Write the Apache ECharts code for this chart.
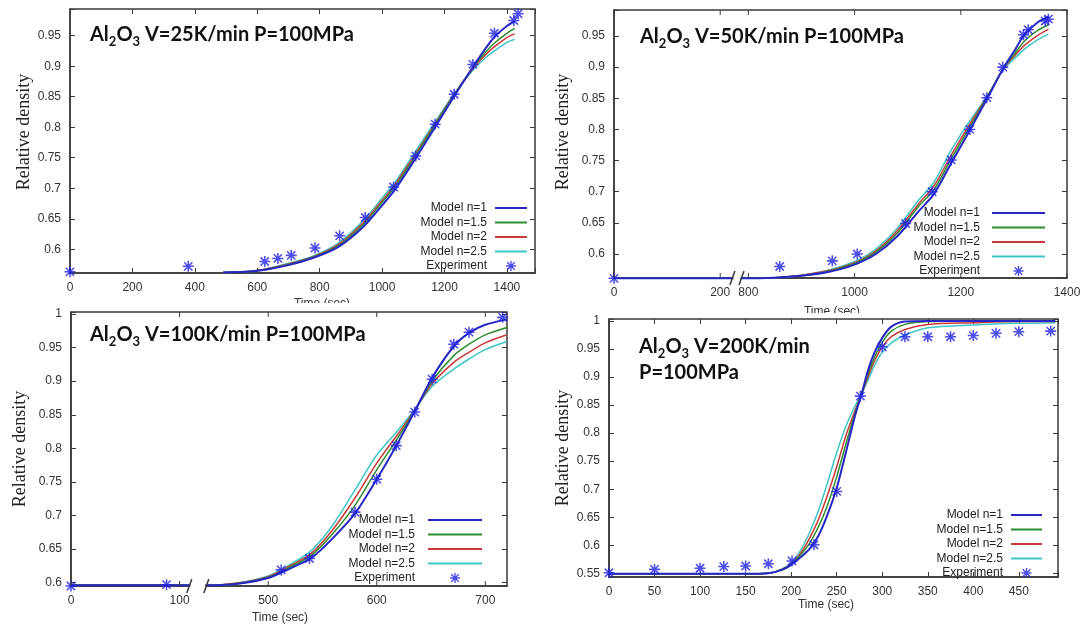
<!DOCTYPE html>
<html><head><meta charset="utf-8">
<script src="https://cdn.jsdelivr.net/npm/echarts@6/dist/echarts.min.js"></script>
<style>html,body{margin:0;padding:0;background:#fff}#c{width:1083px;height:627px}</style>
</head><body><div id="c"></div>
<script>
// ---------- DATA ----------
const seriesNames = ['Model n=1', 'Model n=1.5', 'Model n=2', 'Model n=2.5', 'Experiment'];

// Panel 1: V=25K/min
const p1Time = [490, 560, 620, 700, 780, 860, 940, 1000, 1040, 1100, 1170, 1230, 1290, 1330, 1360, 1400, 1425];
const p1N1   = [0.562,0.563,0.566,0.574,0.586,0.604,0.637,0.672,0.697,0.743,0.800,0.850,0.898,0.928,0.948,0.966,0.974];
const p1N15  = [0.562,0.563,0.566,0.575,0.587,0.606,0.641,0.677,0.702,0.748,0.804,0.852,0.897,0.922,0.938,0.954,0.962];
const p1N2   = [0.562,0.563,0.567,0.576,0.588,0.608,0.644,0.680,0.705,0.751,0.806,0.853,0.895,0.918,0.932,0.947,0.953];
const p1N25  = [0.562,0.563,0.567,0.577,0.589,0.610,0.647,0.684,0.709,0.755,0.809,0.854,0.893,0.913,0.925,0.939,0.944];
const p1ExpTime = [0, 379, 624, 666, 709, 785, 864, 946, 1037, 1108, 1170, 1231, 1291, 1360, 1422, 1436];
const p1ExpDens = [0.563,0.572,0.580,0.585,0.590,0.602,0.622,0.652,0.702,0.753,0.805,0.854,0.903,0.954,0.975,0.986];
const p1TickLabels = [0, 200, 400, 600, 800, 1000, 1200, 1400];

// Panel 2: V=50K/min
const p2Time = [0, 223, 787, 850, 900, 950, 1000, 1040, 1080, 1120, 1150, 1180, 1210, 1250, 1280, 1300, 1320, 1345, 1365];
const p2N1   = [0.561,0.561,0.561,0.562,0.565,0.571,0.583,0.600,0.628,0.668,0.697,0.743,0.788,0.850,0.898,0.925,0.952,0.972,0.981];
const p2N15  = [0.561,0.561,0.561,0.562,0.565,0.572,0.585,0.603,0.633,0.676,0.704,0.750,0.794,0.852,0.898,0.920,0.942,0.959,0.968];
const p2N2   = [0.561,0.561,0.561,0.562,0.566,0.573,0.586,0.605,0.637,0.680,0.710,0.756,0.799,0.853,0.897,0.917,0.935,0.951,0.961];
const p2N25  = [0.561,0.561,0.561,0.562,0.566,0.574,0.588,0.608,0.641,0.686,0.716,0.764,0.805,0.854,0.896,0.913,0.929,0.944,0.953];
const p2ExpTime = [0, 859, 958, 1005, 1096, 1146, 1182, 1217, 1249, 1279, 1318, 1327, 1359, 1365];
const p2ExpDens = [0.561,0.580,0.589,0.600,0.649,0.700,0.751,0.800,0.851,0.900,0.952,0.960,0.974,0.977];
const p2TickLabels = [0, 200, 800, 1000, 1200, 1400];

// Panel 3: V=100K/min
const p3Time = [0, 109, 443, 470, 500, 520, 540, 560, 580, 600, 618, 635, 651, 671, 685, 700, 720];
const p3N1   = [0.596,0.596,0.596,0.598,0.607,0.621,0.637,0.667,0.703,0.754,0.804,0.855,0.905,0.952,0.972,0.984,0.992];
const p3N15  = [0.596,0.596,0.596,0.598,0.608,0.623,0.641,0.674,0.715,0.768,0.812,0.856,0.900,0.938,0.955,0.969,0.980];
const p3N2   = [0.596,0.596,0.596,0.599,0.609,0.625,0.644,0.680,0.726,0.778,0.818,0.857,0.896,0.928,0.943,0.957,0.969];
const p3N25  = [0.596,0.596,0.596,0.599,0.610,0.627,0.648,0.687,0.738,0.790,0.824,0.858,0.892,0.918,0.933,0.947,0.959];
const p3ExpTime = [0, 88, 512, 538, 580, 600, 618, 635, 651, 671, 685, 716];
const p3ExpDens = [0.595,0.597,0.619,0.636,0.705,0.754,0.804,0.854,0.903,0.955,0.973,0.995];
const p3TickLabels = [0, 100, 500, 600, 700];

// Panel 4: V=200K/min
const p4Time = [0, 150, 175, 190, 200, 210, 220, 230, 240, 250, 260, 270, 277, 285, 292, 300, 310, 325, 350, 400, 450, 490];
const p4N1   = [0.549,0.549,0.550,0.556,0.565,0.578,0.593,0.617,0.655,0.702,0.765,0.830,0.868,0.915,0.946,0.970,0.990,0.999,1.000,1.000,1.000,1.000];
const p4N15  = [0.549,0.549,0.550,0.557,0.566,0.582,0.603,0.633,0.672,0.722,0.780,0.835,0.868,0.908,0.937,0.962,0.982,0.994,0.999,1.000,1.000,1.000];
const p4N2   = [0.549,0.549,0.550,0.557,0.567,0.585,0.612,0.646,0.690,0.740,0.795,0.840,0.868,0.903,0.930,0.954,0.972,0.985,0.994,0.997,0.999,0.999];
const p4N25  = [0.549,0.549,0.550,0.558,0.568,0.590,0.622,0.662,0.712,0.765,0.812,0.848,0.869,0.897,0.922,0.944,0.961,0.975,0.988,0.993,0.996,0.997];
const p4ExpTime = [0, 50, 100, 126, 150, 175, 201, 225, 250, 276, 300, 325, 350, 375, 400, 425, 450, 485];
const p4ExpDens = [0.551,0.557,0.559,0.562,0.563,0.567,0.572,0.601,0.696,0.866,0.954,0.972,0.972,0.972,0.974,0.978,0.981,0.982];
const p4TickLabels = [0, 50, 100, 150, 200, 250, 300, 350, 400, 450];

const titleLines = [
  ['V=25K/min P=100MPa'],
  ['V=50K/min P=100MPa'],
  ['V=100K/min P=100MPa'],
  ['V=200K/min', 'P=100MPa']
];

// ---------- LAYOUT ----------
const panels = [
  {t: p1Time, m: [p1N1, p1N15, p1N2, p1N25], et: p1ExpTime, ed: p1ExpDens, ticks: p1TickLabels},
  {t: p2Time, m: [p2N1, p2N15, p2N2, p2N25], et: p2ExpTime, ed: p2ExpDens, ticks: p2TickLabels},
  {t: p3Time, m: [p3N1, p3N15, p3N2, p3N25], et: p3ExpTime, ed: p3ExpDens, ticks: p3TickLabels},
  {t: p4Time, m: [p4N1, p4N15, p4N2, p4N25], et: p4ExpTime, ed: p4ExpDens, ticks: p4TickLabels}
];
const layout = [
  {grid:{left:70, top:9, width:465, height:264}, x:{min:0, max:1490, interval:200}, y:{min:0.5611, max:0.9938, step:0.05},
   xName:{gap:25, pad:[0,0,0,39]}, yName:{gap:37, pad:[0,0,0,18]},
   leg:{right:556, top:201, w:32, tp:3}, title:{left:90, top:22}},
  {grid:{left:614, top:10, width:453, height:268}, x:{min:0, max:1400, interval:200}, y:{min:0.5615, max:0.9917, step:0.05},
   brk:{start:223, end:787, gap:'2%'},
   xName:{gap:28, pad:[0,17,0,0]}, yName:{gap:42, pad:[0,0,0,24]},
   leg:{right:38, top:206, w:53, tp:7}, title:{left:640, top:24}},
  {grid:{left:71, top:312, width:436, height:274}, x:{min:0, max:720, interval:100}, y:{min:0.595, max:1.003, step:0.05},
   brk:{start:109, end:443, gap:'3.9%'},
   xName:{gap:26, pad:[0,18,0,0]}, yName:{gap:42, pad:[0,0,0,0]},
   leg:{right:601, top:513, w:54, tp:8}, title:{left:90, top:322}},
  {grid:{left:609, top:319, width:449, height:258}, x:{min:0, max:493, interval:50}, y:{min:0.5434, max:1.0036, step:0.05},
   xName:{gap:20, pad:[0,15,0,0]}, yName:{gap:36, pad:[0,0,0,0]},
   leg:{right:41, top:508, w:31, tp:3}, title:{left:639, top:334}}
];

const lineColors = ['#2626c4', '#2e8b2e', '#c83a3a', '#3ec6c6'];
const lineWidths = [2, 1.5, 1.5, 1.5];
const expColor = '#2020e6';
const asterisk = 'path://M8.6,0L11.4,0L11.4,20L8.6,20Z M0,8.6L20,8.6L20,11.4L0,11.4Z M3.5,1.5L18.5,16.5L16.5,18.5L1.5,3.5Z M18.5,3.5L3.5,18.5L1.5,16.5L16.5,1.5Z';
// legend line icon: a 2px bar in a box of the legend item's own size
function lineIcon(len) {
  return 'path://M0,0L0.01,0L0.01,0.01Z M0,4L' + len + ',4L' + len + ',6L0,6Z M0,10L0.01,10L0.01,9.99Z';
}
const axisColor = '#3a3a3a';
const labelColor = '#333';
const sans = 'Liberation Sans';

function stepFormatter(step) {
  return function (v) {
    const r = Math.round(v / step);
    if (Math.abs(v - r * step) > step * 1e-4) return '';
    return String(+(r * step).toFixed(4));
  };
}

const grids = [], xAxes = [], yAxes = [], series = [], legends = [], titles = [];
layout.forEach((L, i) => {
  grids.push(Object.assign({show: true, borderColor: axisColor, borderWidth: 1.5, backgroundColor: 'transparent'}, L.grid));
  const xb = {gridIndex: i, type: 'value', min: L.x.min, max: L.x.max, interval: L.x.interval, splitLine: {show: false}};
  if (L.brk) {
    xb.breaks = [{start: L.brk.start, end: L.brk.end, gap: L.brk.gap}];
    xb.breakArea = {show: false};
    xb.breakLabelLayout = {moveOverlap: false};
  }
  const hasBrk = !!L.brk;
  xAxes.push(Object.assign({}, xb, {
    position: 'bottom',
    axisLine: {show: true, onZero: false, lineStyle: {color: axisColor, width: 1.5}},
    axisTick: {show: !hasBrk, inside: true, length: 5, lineStyle: {color: axisColor}},
    axisLabel: {show: !hasBrk, formatter: stepFormatter(L.x.interval), fontFamily: sans, fontSize: 12, color: labelColor, margin: 9},
    name: 'Time (sec)', nameLocation: 'middle', nameGap: L.xName.gap,
    nameTextStyle: {fontFamily: sans, fontSize: 12, color: labelColor, padding: L.xName.pad}
  }));
  xAxes.push(Object.assign({}, xb, {
    position: 'top',
    axisLine: {show: false, onZero: false},
    axisTick: {show: !hasBrk, inside: true, length: 5, lineStyle: {color: axisColor}},
    axisLabel: {show: false}
  }));
  const yb = {gridIndex: i, type: 'value', min: L.y.min, max: L.y.max, splitNumber: 8, splitLine: {show: false}};
  yAxes.push(Object.assign({}, yb, {
    position: 'left',
    axisLine: {show: true, onZero: false, lineStyle: {color: axisColor, width: 1.5}},
    axisTick: {show: true, inside: true, length: 5, lineStyle: {color: axisColor}},
    axisLabel: {formatter: stepFormatter(L.y.step), fontFamily: sans, fontSize: 12, color: labelColor, margin: 9},
    name: 'Relative density', nameLocation: 'middle', nameGap: L.yName.gap, nameRotate: 90,
    nameTextStyle: {fontFamily: 'Liberation Serif', fontSize: 18, color: '#222', padding: L.yName.pad}
  }));
  yAxes.push(Object.assign({}, yb, {
    position: 'right',
    axisLine: {show: false, onZero: false},
    axisTick: {show: true, inside: true, length: 5, lineStyle: {color: axisColor}},
    axisLabel: {show: false}
  }));

  const P = panels[i];
  for (let k = 3; k >= 0; k--) {
    series.push({
      type: 'line', name: seriesNames[k], xAxisIndex: 2 * i, yAxisIndex: 2 * i,
      data: P.t.map((t, j) => [t, P.m[k][j]]),
      smooth: 0.3, symbol: 'none', clip: false,
      lineStyle: {color: lineColors[k], width: lineWidths[k]}, itemStyle: {color: lineColors[k]},
      z: 3 + (3 - k)
    });
  }
  series.push({
    type: 'scatter', name: seriesNames[4], xAxisIndex: 2 * i, yAxisIndex: 2 * i,
    data: P.et.map((t, j) => [t, P.ed[j]]),
    symbol: asterisk, symbolSize: 11, symbolKeepAspect: true, clip: false,
    itemStyle: {color: expColor}, z: 10
  });

  legends.push({
    orient: 'vertical', align: 'right', right: L.leg.right, top: L.leg.top,
    itemWidth: L.leg.w, itemHeight: 10, itemGap: 0.5, padding: 0, selectedMode: false,
    data: seriesNames.map((n, k) => k < 4 ? {name: n, icon: lineIcon(L.leg.w)} : {name: n, icon: asterisk}),
    textStyle: {fontFamily: sans, fontSize: 12, color: '#222', lineHeight: 14, padding: [0, L.leg.tp, 0, 0]}
  });

  const lines = titleLines[i];
  const txt = '{a|Al}{s|2}{a|O}{s|3}{a| ' + lines[0] + '}' + (lines[1] ? '\n{a|' + lines[1] + '}' : '');
  titles.push({
    left: L.title.left, top: L.title.top, padding: 0, text: txt,
    textStyle: {rich: {
      a: {fontFamily: 'Lato', fontWeight: 'bold', fontSize: 20, color: '#111', lineHeight: 26},
      s: {fontFamily: 'Lato', fontWeight: 'bold', fontSize: 13, color: '#111', lineHeight: 14, verticalAlign: 'bottom'}
    }}
  });
});

const chart = echarts.init(document.getElementById('c'), null, {renderer: 'canvas'});
chart.setOption({
  animation: false,
  backgroundColor: '#fff',
  title: titles, grid: grids, xAxis: xAxes, yAxis: yAxes, series: series, legend: legends,
  graphic: [
    {type: 'rect', id: 'clipL', left: 150, top: 303, shape: {width: 390, height: 8}, style: {fill: '#fff'}, z: 100},
    {type: 'rect', id: 'clipR', left: 700, top: 313, shape: {width: 300, height: 5}, style: {fill: '#fff'}, z: 100}
  ]
});

// broken axes: slash marks, tick marks and tick labels placed through the axis scales
const extra = [];
layout.forEach((L, i) => {
  if (!L.brk) return;
  const y = chart.convertToPixel({yAxisIndex: 2 * i}, L.y.min);
  const yTop = chart.convertToPixel({yAxisIndex: 2 * i}, L.y.max);
  const xa = chart.convertToPixel({xAxisIndex: 2 * i}, L.brk.start);
  const xb2 = chart.convertToPixel({xAxisIndex: 2 * i}, L.brk.end);
  extra.push({type: 'rect', id: 'gap' + i, shape: {x: xa + 1, y: y - 3, width: xb2 - xa - 2, height: 6}, style: {fill: '#fff'}, z: 90});
  [xa, xb2].forEach((x, k) => {
    extra.push({type: 'line', id: 'sl' + i + k, shape: {x1: x - 2.5, y1: y + 7, x2: x + 2.5, y2: y - 7},
      style: {stroke: axisColor, lineWidth: 1.5}, z: 91});
  });
  panels[i].ticks.forEach((v, k) => {
    const x = chart.convertToPixel({xAxisIndex: 2 * i}, v);
    extra.push({type: 'text', id: 'tl' + i + '_' + k, x: x, y: y + 9,
      style: {text: String(v), fill: labelColor, font: '12px "Liberation Sans"', textAlign: 'center', textVerticalAlign: 'top'}, z: 50});
    extra.push({type: 'line', id: 'tb' + i + '_' + k, shape: {x1: x, y1: y, x2: x, y2: y - 5}, style: {stroke: axisColor, lineWidth: 1}, z: 50});
    extra.push({type: 'line', id: 'tt' + i + '_' + k, shape: {x1: x, y1: yTop, x2: x, y2: yTop + 5}, style: {stroke: axisColor, lineWidth: 1}, z: 50});
  });
});
chart.setOption({graphic: extra});
</script>
</body></html>
